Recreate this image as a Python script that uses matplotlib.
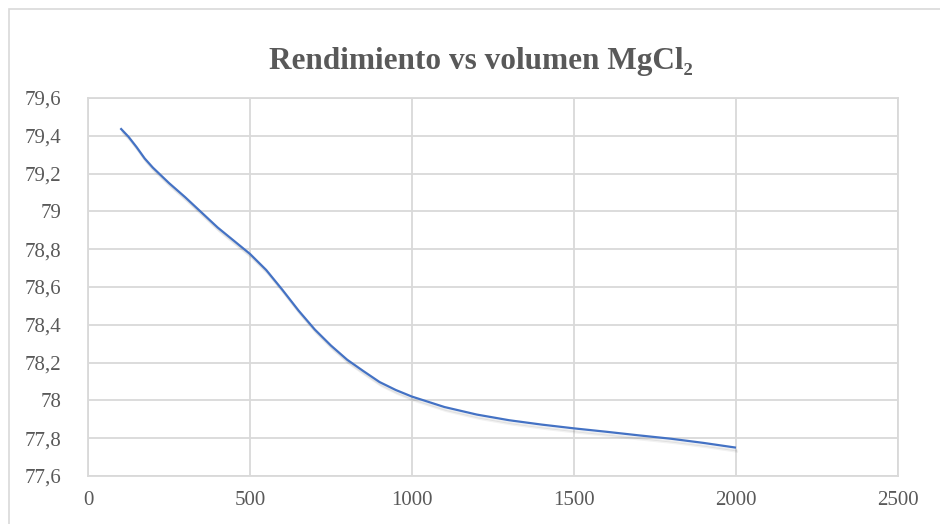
import matplotlib
matplotlib.use("Agg")
import matplotlib.pyplot as plt
import matplotlib.patheffects as pe
from matplotlib.patches import Rectangle
from matplotlib.ticker import FuncFormatter, MultipleLocator

# datos
volumen = [100, 125, 150, 175, 200, 250, 300, 350, 400, 450, 500, 550, 600, 650, 700,
           750, 800, 850, 900, 950, 1000, 1100, 1200, 1300, 1400, 1500, 1600, 1700,
           1800, 1900, 2000]
rendimiento = [79.44, 79.395, 79.34, 79.28, 79.232, 79.15, 79.075, 78.995, 78.915, 78.845,
               78.775, 78.69, 78.585, 78.475, 78.375, 78.29, 78.215, 78.155, 78.097,
               78.055, 78.02, 77.965, 77.925, 77.895, 77.872, 77.852, 77.834, 77.815,
               77.797, 77.775, 77.75]

titulo = "Rendimiento vs volumen MgCl\u2082"
gris = "#595959"
rejilla = "#D9D9D9"

plt.rcParams["font.family"] = ["Liberation Serif", "DejaVu Serif"]

fig = plt.figure(figsize=(9.4, 5.24), dpi=100)
fig.patches.append(Rectangle((9 / 940, -0.1), 1.2, 1 - 9 / 524 + 0.1,
                             transform=fig.transFigure, fill=False,
                             edgecolor=rejilla, linewidth=1.2))

ax = fig.add_axes([88 / 940, 1 - 476 / 524, (898 - 88) / 940, (476 - 98) / 524])
ax.plot(volumen, rendimiento, color="#4472C4", linewidth=1.6, solid_joinstyle="round",
        solid_capstyle="butt",
        path_effects=[pe.SimpleLineShadow(offset=(1, -2), alpha=0.07, shadow_color="black"),
                      pe.SimpleLineShadow(offset=(1.5, -3), alpha=0.05, shadow_color="black"),
                      pe.Normal()])

ax.set_xlim(0, 2500)
ax.set_ylim(77.6, 79.6)
ax.xaxis.set_major_locator(MultipleLocator(500))
ax.yaxis.set_major_locator(MultipleLocator(0.2))
ax.yaxis.set_major_formatter(FuncFormatter(lambda v, p: ("%g" % round(v, 1)).replace(".", ",")))
ax.xaxis.set_major_formatter(FuncFormatter(lambda v, p: "%d" % v))

ax.grid(True, color=rejilla, linewidth=1.3)
ax.set_axisbelow(True)
for s in ax.spines.values():
    s.set_color(rejilla)
    s.set_linewidth(1.3)
ax.tick_params(length=0, labelsize=15, colors=gris)
ax.tick_params(axis="y", pad=19)
ax.tick_params(axis="x", pad=11)

fig.text(481 / 940, 1 - 62 / 524, titulo, ha="center", va="center",
         fontsize=22.5, fontweight="bold", color=gris)

fig.savefig("out.png", dpi=100)
